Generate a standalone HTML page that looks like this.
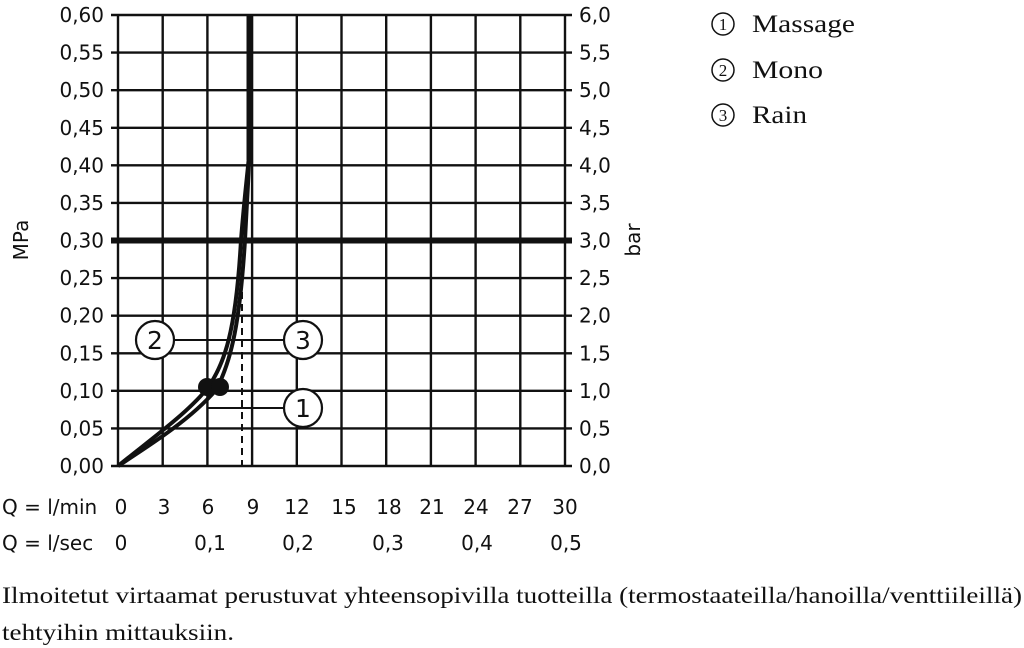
<!DOCTYPE html>
<html><head><meta charset="utf-8"><style>
html,body{margin:0;padding:0;background:#fff;width:1024px;height:648px;overflow:hidden}
svg{display:block}
.s{font-family:"DejaVu Sans","Liberation Sans",sans-serif;font-size:20px;fill:#111}
.r{font-family:"Liberation Serif",serif;font-size:22px;fill:#111}
</style></head><body>
<svg width="1024" height="648" viewBox="0 0 1024 648" xmlns="http://www.w3.org/2000/svg">
<g stroke="#111" stroke-width="2.4" fill="none">
<line x1="118" y1="15" x2="118" y2="466"/><line x1="162.7" y1="15" x2="162.7" y2="466"/><line x1="207.4" y1="15" x2="207.4" y2="466"/><line x1="252.1" y1="15" x2="252.1" y2="466"/><line x1="296.8" y1="15" x2="296.8" y2="466"/><line x1="341.5" y1="15" x2="341.5" y2="466"/><line x1="386.2" y1="15" x2="386.2" y2="466"/><line x1="430.9" y1="15" x2="430.9" y2="466"/><line x1="475.6" y1="15" x2="475.6" y2="466"/><line x1="520.3" y1="15" x2="520.3" y2="466"/><line x1="565" y1="15" x2="565" y2="466"/>
<line x1="111" y1="15" x2="572" y2="15"/><line x1="111" y1="52.6" x2="572" y2="52.6"/><line x1="111" y1="90.2" x2="572" y2="90.2"/><line x1="111" y1="127.8" x2="572" y2="127.8"/><line x1="111" y1="165.3" x2="572" y2="165.3"/><line x1="111" y1="202.9" x2="572" y2="202.9"/><line x1="111" y1="278.1" x2="572" y2="278.1"/><line x1="111" y1="315.7" x2="572" y2="315.7"/><line x1="111" y1="353.3" x2="572" y2="353.3"/><line x1="111" y1="390.8" x2="572" y2="390.8"/><line x1="111" y1="428.4" x2="572" y2="428.4"/><line x1="111" y1="466" x2="572" y2="466"/>
<line x1="111" y1="240.5" x2="572" y2="240.5" stroke-width="6"/>
<line x1="249.5" y1="15" x2="249.5" y2="160" stroke-width="6"/>
<line x1="242" y1="280" x2="242" y2="466" stroke-width="2" stroke-dasharray="7,5"/>
<path d="M118,466 C150,440 185,415 206,390 C225,365 236,330 241,240 C245,190 248,170 249.5,150" stroke-width="4"/>
<path d="M118,466 C150,445 190,420 216,390 C232,360 240,320 245,240 C247,200 249,170 249.5,150" stroke-width="4"/>
<line x1="173" y1="340" x2="285" y2="340" stroke-width="2"/>
<line x1="208" y1="408" x2="285" y2="408" stroke-width="2"/>
<circle cx="155" cy="340" r="19" fill="#fff" stroke-width="2.2"/>
<circle cx="303" cy="340" r="19" fill="#fff" stroke-width="2.2"/>
<circle cx="303" cy="408" r="19" fill="#fff" stroke-width="2.2"/>
<circle cx="723" cy="24" r="11" stroke-width="1.5"/>
<circle cx="723" cy="70" r="11" stroke-width="1.5"/>
<circle cx="723" cy="115" r="11" stroke-width="1.5"/>
</g>
<circle cx="207" cy="387" r="9" fill="#111"/><circle cx="220" cy="387" r="9" fill="#111"/>
<g class="s" style="font-size:25px" text-anchor="middle">
<text x="155" y="349">2</text><text x="303" y="349">3</text><text x="303" y="417">1</text>
</g>
<g class="r" style="font-size:17px" text-anchor="middle">
<text x="723" y="30">1</text><text x="723" y="76">2</text><text x="723" y="121">3</text>
</g>
<g class="s" text-anchor="end">
<text x="104" y="22">0,60</text><text x="104" y="59.6">0,55</text><text x="104" y="97.2">0,50</text><text x="104" y="134.8">0,45</text><text x="104" y="172.3">0,40</text><text x="104" y="209.9">0,35</text><text x="104" y="247.5">0,30</text><text x="104" y="285.1">0,25</text><text x="104" y="322.7">0,20</text><text x="104" y="360.3">0,15</text><text x="104" y="397.8">0,10</text><text x="104" y="435.4">0,05</text><text x="104" y="473">0,00</text>
</g>
<g class="s">
<text x="579" y="22">6,0</text><text x="579" y="59.6">5,5</text><text x="579" y="97.2">5,0</text><text x="579" y="134.8">4,5</text><text x="579" y="172.3">4,0</text><text x="579" y="209.9">3,5</text><text x="579" y="247.5">3,0</text><text x="579" y="285.1">2,5</text><text x="579" y="322.7">2,0</text><text x="579" y="360.3">1,5</text><text x="579" y="397.8">1,0</text><text x="579" y="435.4">0,5</text><text x="579" y="473">0,0</text>
</g>
<text class="s" transform="translate(28,240) rotate(-90)" text-anchor="middle">MPa</text>
<text class="s" transform="translate(640,240) rotate(-90)" text-anchor="middle">bar</text>
<g class="s">
<text x="2" y="514">Q = l/min</text><text x="2" y="550">Q = l/sec</text>
</g>
<g class="s" text-anchor="middle">
<text x="121" y="514">0</text><text x="164" y="514">3</text><text x="208" y="514">6</text><text x="253" y="514">9</text><text x="297" y="514">12</text><text x="344" y="514">15</text><text x="389" y="514">18</text><text x="432" y="514">21</text><text x="476" y="514">24</text><text x="520" y="514">27</text><text x="565" y="514">30</text>
<text x="121" y="550">0</text><text x="210" y="550">0,1</text><text x="298" y="550">0,2</text><text x="388" y="550">0,3</text><text x="477" y="550">0,4</text><text x="566" y="550">0,5</text>
</g>
<g class="r" style="font-size:25px">
<text x="752" y="32" textLength="103" lengthAdjust="spacingAndGlyphs">Massage</text><text x="752" y="78" textLength="71" lengthAdjust="spacingAndGlyphs">Mono</text><text x="752" y="123" textLength="55" lengthAdjust="spacingAndGlyphs">Rain</text>
</g>
<g class="r" style="font-size:23px">
<text x="2" y="603" textLength="1020" lengthAdjust="spacingAndGlyphs">Ilmoitetut virtaamat perustuvat yhteensopivilla tuotteilla (termostaateilla/hanoilla/venttiileillä)</text>
<text x="2" y="640" textLength="232" lengthAdjust="spacingAndGlyphs">tehtyihin mittauksiin.</text>
</g>
</svg>
</body></html>
